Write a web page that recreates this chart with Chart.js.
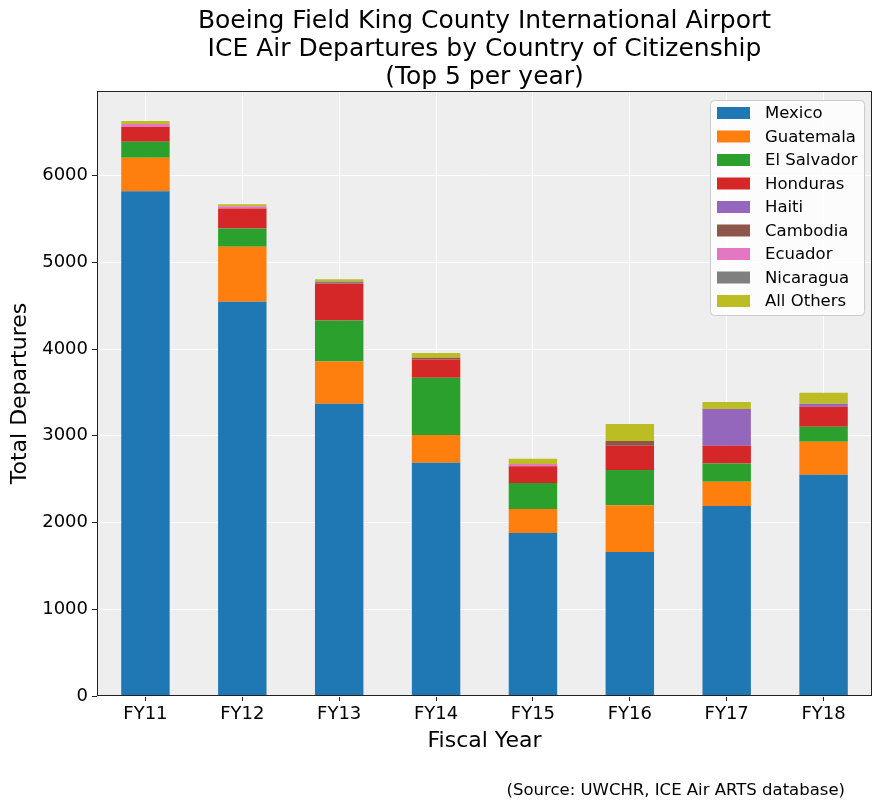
<!DOCTYPE html>
<html>
<head>
<meta charset="utf-8">
<script src="https://cdn.jsdelivr.net/npm/chart.js@4.4.1/dist/chart.umd.min.js"></script>
<style>
  html, body { margin: 0; padding: 0; background: #fff; }
  #wrap { width: 885px; height: 809px; }
</style>
</head>
<body>
<div id="wrap"><canvas id="chart" width="885" height="809"></canvas></div>
<script>
/* -----------------------------
   Data
------------------------------ */
const years = ['FY11', 'FY12', 'FY13', 'FY14', 'FY15', 'FY16', 'FY17', 'FY18'];

const mexico     = [5820, 4545, 3370, 2690, 1880, 1660, 2190, 2550];
const guatemala  = [385, 635, 485, 320, 275, 540, 280, 380];
const elSalvador = [185, 210, 475, 660, 300, 405, 210, 175];
const honduras   = [170, 230, 425, 210, 195, 280, 205, 230];
const haiti      = [0, 0, 0, 0, 0, 0, 425, 35];
const cambodia   = [0, 0, 0, 20, 0, 55, 0, 0];
const ecuador    = [35, 25, 0, 0, 25, 0, 0, 0];
const nicaragua  = [0, 0, 25, 0, 0, 0, 0, 0];
const allOthers  = [35, 25, 25, 55, 60, 195, 80, 125];

const yTicks = [0, 1000, 2000, 3000, 4000, 5000, 6000];

const FONT = "'DejaVu Sans', sans-serif";

const series = [
  ['Mexico', mexico, '#1f77b4'],
  ['Guatemala', guatemala, '#ff7f0e'],
  ['El Salvador', elSalvador, '#2ca02c'],
  ['Honduras', honduras, '#d62728'],
  ['Haiti', haiti, '#9467bd'],
  ['Cambodia', cambodia, '#8c564b'],
  ['Ecuador', ecuador, '#e377c2'],
  ['Nicaragua', nicaragua, '#7f7f7f'],
  ['All Others', allOthers, '#bcbd22']
];

/* -----------------------------
   Plugins: background, frame, texts, legend
------------------------------ */
const decorPlugin = {
  id: 'decor',
  beforeDraw(chart) {
    const { ctx, chartArea: a } = chart;
    ctx.save();
    ctx.fillStyle = '#eeeeee';
    ctx.fillRect(a.left, a.top, a.right - a.left, a.bottom - a.top);
    ctx.restore();
  },
  afterDraw(chart) {
    const { ctx, chartArea: a } = chart;
    ctx.save();
    // frame
    ctx.strokeStyle = '#222';
    ctx.lineWidth = 1;
    ctx.strokeRect(a.left + 0.5, a.top + 0.5, a.right - a.left - 1, a.bottom - a.top - 1);

    // title
    ctx.fillStyle = '#000';
    ctx.textAlign = 'center';
    ctx.textBaseline = 'middle';
    ctx.font = '25px ' + FONT;
    const cx = (a.left + a.right) / 2;
    ctx.fillText('Boeing Field King County International Airport', cx, 21);
    ctx.fillText('ICE Air Departures by Country of Citizenship', cx, 49);
    ctx.fillText('(Top 5 per year)', cx, 77);

    // axis titles
    ctx.font = '22px ' + FONT;
    ctx.fillText('Fiscal Year', cx, 741);
    ctx.save();
    ctx.translate(20, (a.top + a.bottom) / 2);
    ctx.rotate(-Math.PI / 2);
    ctx.fillText('Total Departures', 0, 0);
    ctx.restore();

    // source
    ctx.font = '16.5px ' + FONT;
    ctx.textAlign = 'right';
    ctx.fillText('(Source: UWCHR, ICE Air ARTS database)', 845, 791);

    // legend
    const lx = 710, ly = 100, lw = 154, lh = 215;
    ctx.fillStyle = 'rgba(255,255,255,0.8)';
    ctx.strokeStyle = '#cccccc';
    ctx.beginPath();
    ctx.roundRect(lx + 0.5, ly + 0.5, lw, lh, 4);
    ctx.fill();
    ctx.stroke();
    ctx.font = '16.5px ' + FONT;
    ctx.textAlign = 'left';
    chart.data.datasets.forEach((ds, i) => {
      const y = 113 + i * 23.5;
      ctx.fillStyle = ds.backgroundColor;
      ctx.fillRect(lx + 7, y - 6, 33, 12);
      ctx.fillStyle = '#000';
      ctx.fillText(ds.label, lx + 55, y + 1);
    });
    ctx.restore();
  }
};

/* -----------------------------
   Chart
------------------------------ */
new Chart(document.getElementById('chart'), {
  type: 'bar',
  data: {
    labels: years,
    datasets: series.map(([label, data, color]) => ({
      label,
      data,
      backgroundColor: color,
      borderWidth: 0,
      barPercentage: 0.5,
      categoryPercentage: 1.0
    }))
  },
  options: {
    responsive: false,
    animation: false,
    layout: { padding: { top: 91, right: 13, left: 0, bottom: 0 } },
    plugins: {
      legend: { display: false },
      title: { display: false },
      tooltip: { enabled: false }
    },
    scales: {
      x: {
        stacked: true,
        afterFit(scale) { scale.height = 113; },
        grid: {
          offset: false,
          color: '#ffffff',
          lineWidth: 1,
          tickColor: '#222',
          tickLength: 5
        },
        border: { display: false },
        ticks: { color: '#000', font: { family: FONT, size: 18 }, padding: 3 }
      },
      y: {
        stacked: true,
        min: 0,
        max: 6975,
        afterFit(scale) { scale.width = 97; },
        afterBuildTicks(scale) { scale.ticks = yTicks.map(v => ({ value: v })); },
        grid: {
          color: '#ffffff',
          lineWidth: 1,
          tickColor: '#222',
          tickLength: 5
        },
        border: { display: false },
        ticks: {
          color: '#000',
          font: { family: FONT, size: 18 },
          padding: 4,
          callback: v => String(v)
        }
      }
    }
  },
  plugins: [decorPlugin]
});
</script>
</body>
</html>
